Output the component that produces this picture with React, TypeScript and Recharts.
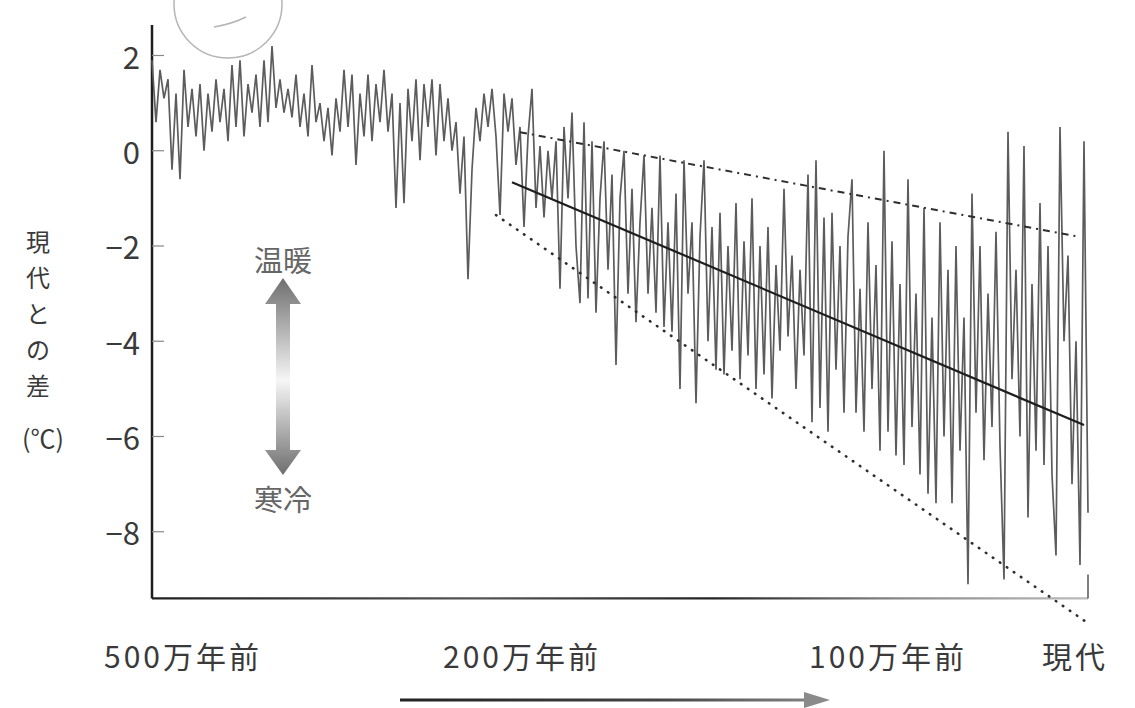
import { LineChart, Line, XAxis, YAxis, ReferenceLine } from 'recharts'

// temperature difference from present (°C), one sample per step, 500万年前 → 現代
const tempValues = [
  1.9, 0.6, 1.7, 1.1, 1.5, -0.4, 1.2, -0.6, 1.7, 0.5,
  1.3, 0.3, 1.4, 0.0, 1.2, 0.4, 1.5, 0.6, 1.3, 0.2,
  1.8, 0.5, 1.9, 0.3, 1.4, 0.8, 1.6, 0.5, 1.9, 0.6,
  2.2, 0.9, 1.5, 0.8, 1.3, 0.7, 1.6, 0.5, 1.2, 0.3,
  1.8, 0.6, 1.0, 0.2, 0.9, -0.1, 1.1, 0.4, 1.7, 0.5,
  1.6, -0.3, 1.2, 0.3, 1.6, 0.2, 1.4, 0.6, 1.7, 0.4,
  1.2, -1.2, 1.0, -1.1, 1.3, 0.2, 1.5, -0.2, 1.4, 0.5,
  1.5, -0.1, 1.4, 0.2, 1.1, 0.0, 0.6, -0.9, 0.3, -2.7,
  -0.4, 0.9, 0.2, 1.2, 0.5, 1.3, 0.3, -1.35, 1.2, 0.4,
  1.1, -0.3, 0.5, -1.6, 0.3, 1.3, -1.2, 0.1, -1.4, 0.0,
  -1.0, 0.2, -2.9, 0.5, -1.0, 0.8, -2.0, -3.2, 0.6, -3.1,
  0.2, -3.4, -1.0, 0.2, -2.5, -0.5, -4.5, -1.0, 0.0, -3.0,
  -0.8, -3.6, -1.5, -0.1, -3.0, -1.2, -3.4, -0.1, -3.7, -1.5,
  -3.8, -0.9, -5.0, -0.2, -3.0, -1.5, -5.3, -1.8, -0.2, -4.0,
  -1.6, -4.6, -1.3, -4.7, -2.0, -4.2, -1.1, -4.8, -1.9, -4.3,
  -1.0, -5.0, -2.0, -4.7, -1.6, -5.2, -2.4, -4.2, -0.8, -3.9,
  -2.2, -5.0, -2.5, -4.3, -0.5, -5.7, -0.2, -5.4, -1.4, -5.9,
  -1.3, -4.6, -2.0, -5.5, -1.8, -0.6, -5.5, -2.9, -5.9, -1.5,
  -5.0, -2.4, -6.3, 0.0, -5.9, -1.9, -6.4, -2.8, -6.6, -0.6,
  -5.8, -3.0, -6.8, -1.2, -7.2, -3.5, -7.4, -1.5, -6.0, -2.5,
  -7.4, -2.0, -6.3, -3.5, -9.1, -0.9, -5.5, -2.0, -6.5, -3.0,
  -5.8, -1.7, -6.2, -9.0, 0.4, -4.8, -2.5, -6.0, 0.1, -7.7,
  -2.8, -6.3, -1.1, -6.6, -2.0, -6.8, -8.5, 0.5, -4.0, -2.2,
  -7.0, -4.0, -8.7, 0.2, -7.6,
]

// trend lines: [start step, end step] and their values
const trendSteps = [90, 233]
const trendValues = [-0.66, -5.76]
const upperSteps = [92, 232]
const upperValues = [0.39, -1.81]
const lowerSteps = [86, 234]
const lowerValues = [-1.35, -9.92]

const yTicks = [2, 0, -2, -4, -6, -8]
const xTickSteps = [0, 88, 185, 234]
const xTickLabels = ['500万年前', '200万年前', '100万年前', '現代']

const seriesData = tempValues.map((v, i) => ({ step: i, temp: v }))
const toRows = (steps: number[], vals: number[]) => steps.map((s, k) => ({ step: s, temp: vals[k] }))

const FONT = '"Noto Sans CJK JP", "Noto Sans", sans-serif'

function YTick(props: any) {
  const { x, y, payload } = props
  const label = payload.value < 0 ? `−${Math.abs(payload.value)}` : `${payload.value}`
  return (
    <g>
      <line x1={x + 12} x2={x + 24} y1={y} y2={y} stroke="#888" strokeWidth={1.2} />
      <text x={x} y={y} textAnchor="end" dominantBaseline="central" fontSize={31} fontFamily={FONT} fill="#3a3a3a">
        {label}
      </text>
    </g>
  )
}

function XTick(props: any) {
  const { x, y, payload } = props
  const shift = [31, 18, -4, -13]
  const idx = xTickSteps.indexOf(payload.value)
  return (
    <text
      x={x + shift[idx]}
      y={y + 28}
      textAnchor="middle"
      dominantBaseline="central"
      fontSize={30}
      letterSpacing={3}
      fontFamily={FONT}
      fill="#3a3a3a"
    >
      {xTickLabels[idx]}
    </text>
  )
}

export default function App() {
  const yTitle = ['現', '代', 'と', 'の', '差']
  return (
    <div style={{ position: 'absolute', left: 0, top: 0, width: 1135, height: 708, background: '#fff' }}>
      <LineChart width={1135} height={708} data={seriesData} margin={{ top: 25, right: 47, bottom: 0, left: 0 }}>
        <defs>
          <linearGradient id="xaxisFade" x1="152" y1="0" x2="1088" y2="0" gradientUnits="userSpaceOnUse">
            <stop offset="0" stopColor="#1e1e1e" />
            <stop offset="0.35" stopColor="#555" />
            <stop offset="0.6" stopColor="#222" />
            <stop offset="0.8" stopColor="#888" />
            <stop offset="1" stopColor="#bbb" />
          </linearGradient>
        </defs>
        <XAxis
          type="number"
          dataKey="step"
          domain={[0, 234]}
          ticks={xTickSteps}
          interval={0}
          axisLine={false}
          tickLine={false}
          tickSize={0}
          tickMargin={0}
          height={81}
          tick={(p: any) => <XTick {...p} />}
        />
        <YAxis
          type="number"
          domain={[-10, 2.64]}
          ticks={yTicks}
          interval={0}
          axisLine={false}
          tickLine={false}
          tickSize={0}
          tickMargin={12}
          width={152}
          tick={(p: any) => <YTick {...p} />}
        />
        {/* axes drawn as segments so they stop at the x axis */}
        <ReferenceLine segment={[{ x: 0, y: -9.4 }, { x: 0, y: 2.64 }]} stroke="#1e1e1e" strokeWidth={2.5} ifOverflow="visible" />
        <ReferenceLine segment={[{ x: 0, y: -9.4 }, { x: 234, y: -9.4 }]} stroke="url(#xaxisFade)" strokeWidth={2.2} ifOverflow="visible" />
        <ReferenceLine segment={[{ x: 234, y: -9.4 }, { x: 234, y: -8.9 }]} stroke="#555" strokeWidth={1.5} ifOverflow="visible" />
        <Line
          dataKey="temp"
          stroke="#5c5c5c"
          strokeWidth={1.7}
          dot={false}
          isAnimationActive={false}
        />
        <Line
          data={toRows(upperSteps, upperValues)}
          dataKey="temp"
          stroke="#2e2e2e"
          strokeWidth={2}
          strokeDasharray="7 5 2 5"
          dot={false}
          isAnimationActive={false}
        />
        <Line
          data={toRows(lowerSteps, lowerValues)}
          dataKey="temp"
          stroke="#2e2e2e"
          strokeWidth={2.6}
          strokeDasharray="0.5 8"
          strokeLinecap="round"
          dot={false}
          isAnimationActive={false}
        />
        <Line
          data={toRows(trendSteps, trendValues)}
          dataKey="temp"
          stroke="#1e1e1e"
          strokeWidth={2.2}
          dot={false}
          isAnimationActive={false}
        />
      </LineChart>

      <svg width={1135} height={708} style={{ position: 'absolute', left: 0, top: 0, pointerEvents: 'none' }}>
        <defs>
          <linearGradient id="dbl" x1="0" y1="278" x2="0" y2="475" gradientUnits="userSpaceOnUse">
            <stop offset="0" stopColor="#6e6e6e" />
            <stop offset="0.52" stopColor="#f6f6f6" />
            <stop offset="1" stopColor="#6e6e6e" />
          </linearGradient>
          <linearGradient id="hor" x1="400" y1="0" x2="830" y2="0" gradientUnits="userSpaceOnUse">
            <stop offset="0" stopColor="#222" />
            <stop offset="0.6" stopColor="#444" />
            <stop offset="1" stopColor="#8a8a8a" />
          </linearGradient>
        </defs>

        {/* y axis title */}
        {yTitle.map((c, k) => (
          <text key={c} x={38} y={240 + k * 36} textAnchor="middle" dominantBaseline="central" fontSize={24} fontFamily={FONT} fill="#3a3a3a">
            {c}
          </text>
        ))}
        <text x={43} y={437} textAnchor="middle" dominantBaseline="central" fontSize={25} fontFamily={FONT} fill="#3a3a3a">
          (℃)
        </text>

        {/* warm / cold arrow */}
        <text x={283} y={259} textAnchor="middle" dominantBaseline="central" fontSize={29} fontFamily={FONT} fill="#666">
          温暖
        </text>
        <path
          d="M283 278 L301 304 L290 304 L290 450 L301 450 L283 475 L265 450 L276 450 L276 304 L265 304 Z"
          fill="url(#dbl)"
        />
        <text x={283} y={498} textAnchor="middle" dominantBaseline="central" fontSize={29} fontFamily={FONT} fill="#666">
          寒冷
        </text>

        {/* time arrow */}
        <line x1={400} y1={700} x2={808} y2={700} stroke="url(#hor)" strokeWidth={3} />
        <path d="M830 700 L804 692 L804 708 Z" fill="#8a8a8a" />

        {/* lens decoration at top */}
        <circle cx={228} cy={4} r={54} fill="none" stroke="#b5b5b5" strokeWidth={1.5} />
        <path d="M214 27 Q232 24 246 17" fill="none" stroke="#b5b5b5" strokeWidth={1.5} />
      </svg>
    </div>
  )
}
